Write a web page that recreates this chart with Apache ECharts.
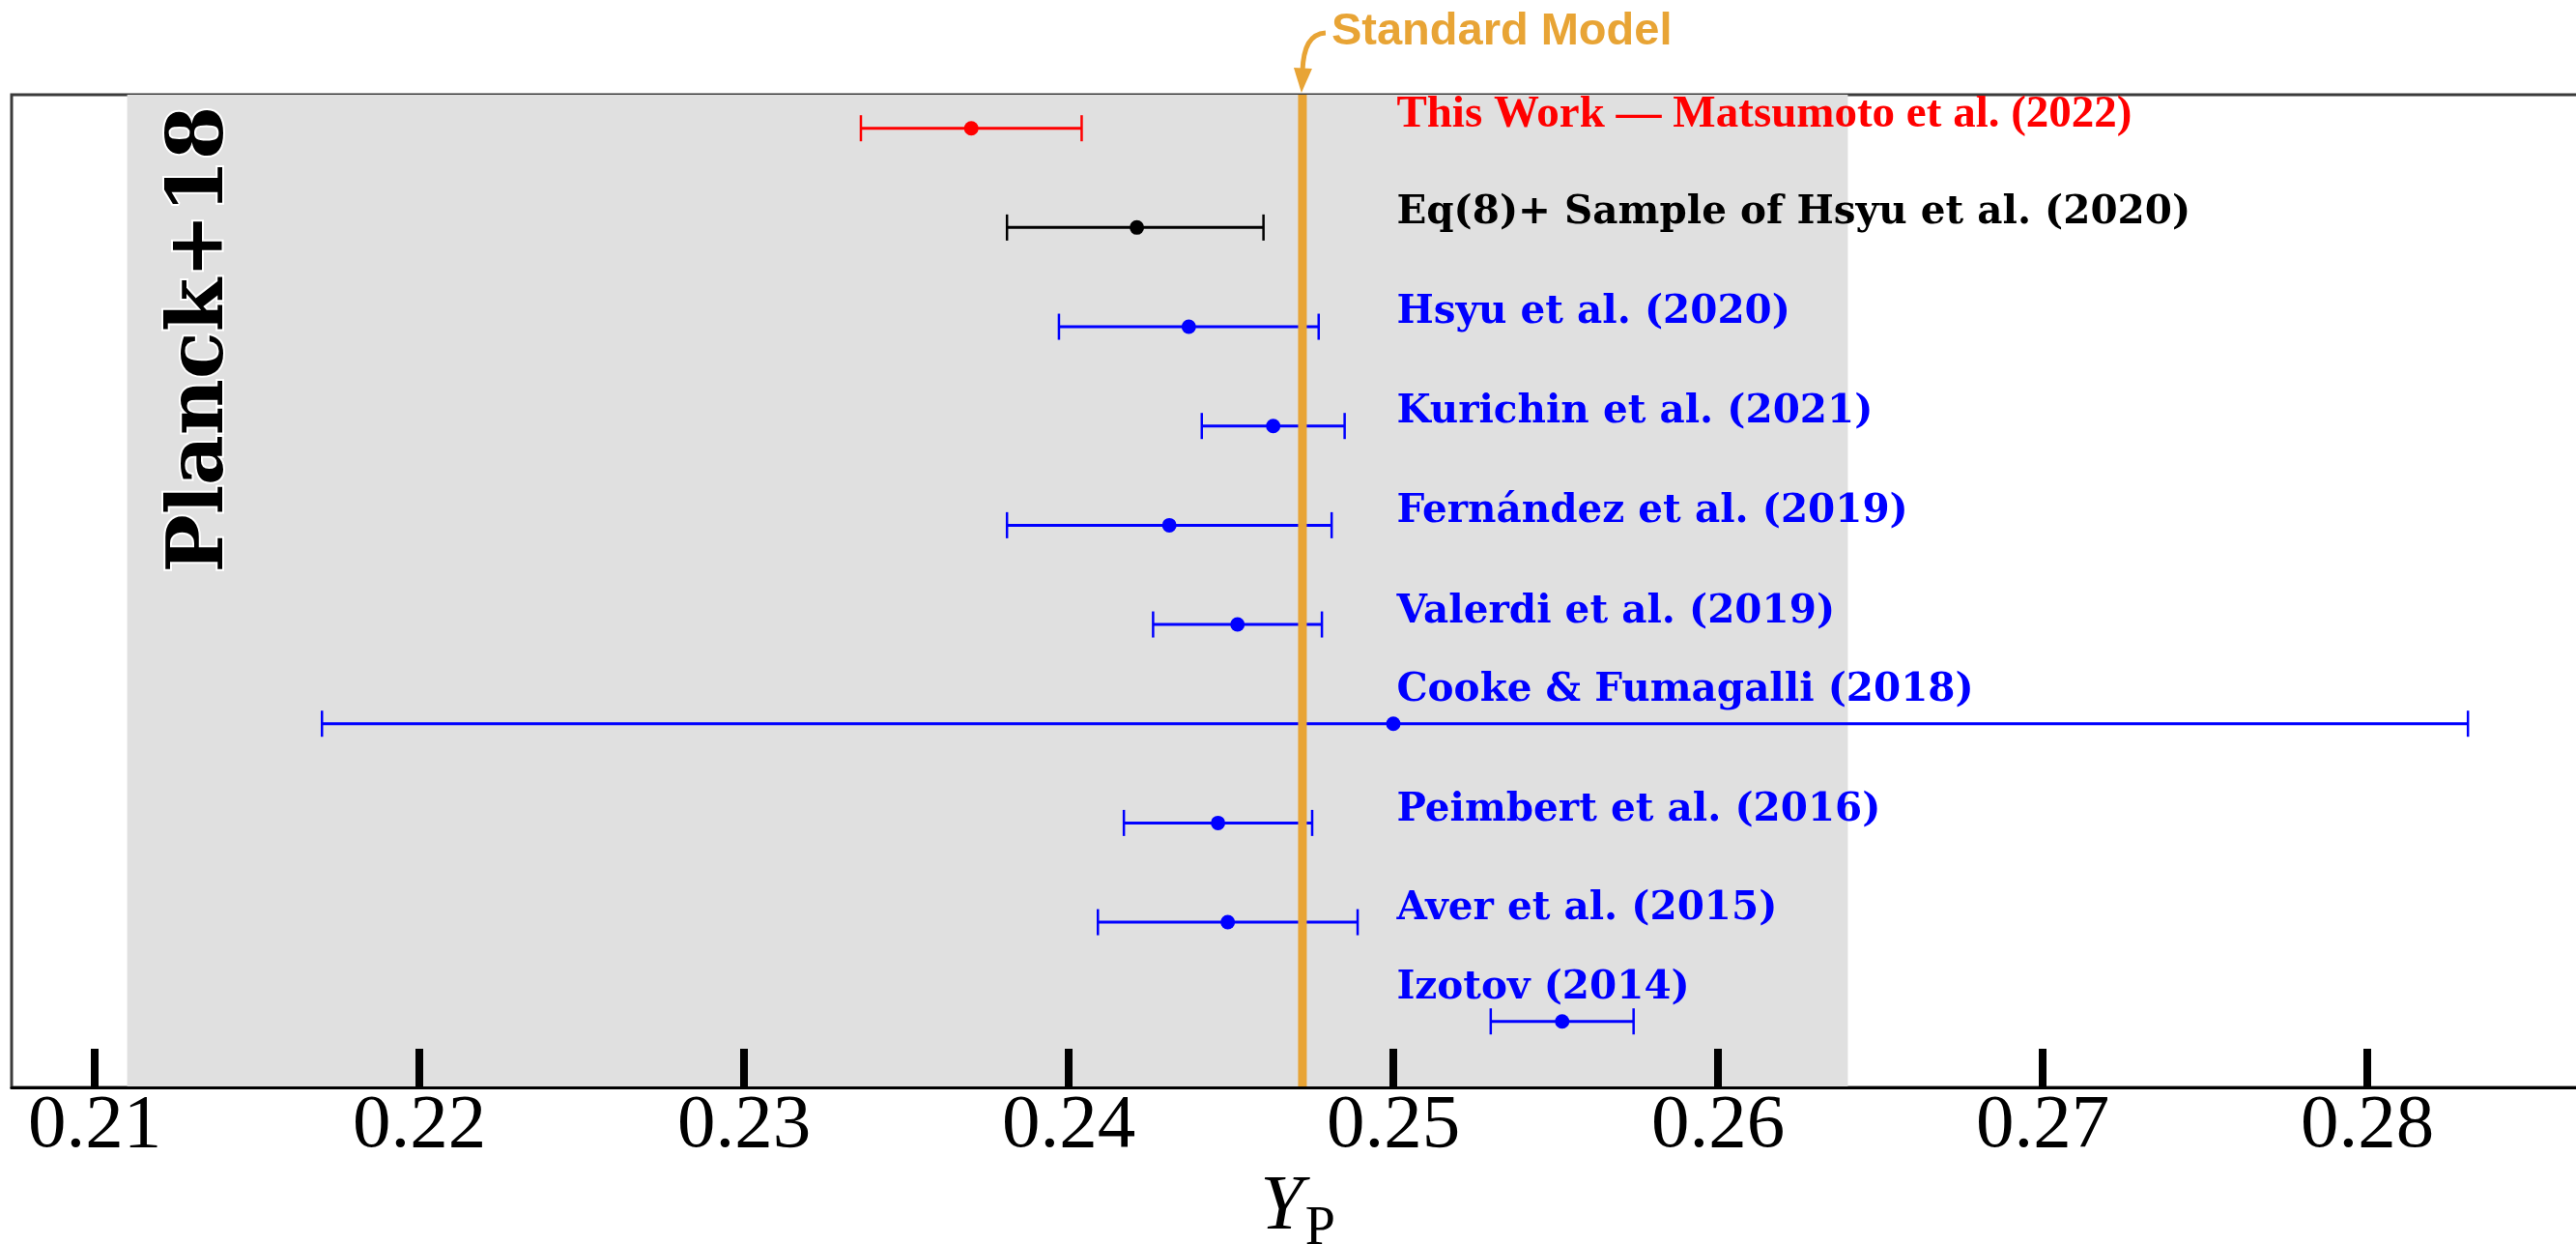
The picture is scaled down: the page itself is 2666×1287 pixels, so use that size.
<!DOCTYPE html>
<html>
<head>
<meta charset="utf-8">
<script src="https://cdn.jsdelivr.net/npm/echarts@6/dist/echarts.min.js"></script>
<style>html,body{margin:0;padding:0;background:#fff;}#c{width:2666px;height:1287px;}</style>
</head>
<body>
<div id="c"></div>
<script>
// ---------------- data ----------------
const studies = [
  'This Work — Matsumoto et al. (2022)',
  'Eq(8)+ Sample of Hsyu et al. (2020)',
  'Hsyu et al. (2020)',
  'Kurichin et al. (2021)',
  'Fernández et al. (2019)',
  'Valerdi et al. (2019)',
  'Cooke & Fumagalli (2018)',
  'Peimbert et al. (2016)',
  'Aver et al. (2015)',
  'Izotov (2014)'
];
const ypValues = [0.2370, 0.2421, 0.2437, 0.2463, 0.2431, 0.2452, 0.2500, 0.2446, 0.2449, 0.2552];
const errMinus = [0.0034, 0.0040, 0.0040, 0.0022, 0.0050, 0.0026, 0.0330, 0.0029, 0.0040, 0.0022];
const errPlus  = [0.0034, 0.0039, 0.0040, 0.0022, 0.0050, 0.0026, 0.0331, 0.0029, 0.0040, 0.0022];
const planckRange = [0.211, 0.264];
const standardModel = 0.2472;
const xTicks = [0.21, 0.22, 0.23, 0.24, 0.25, 0.26, 0.27, 0.28];
const xTickLabels = ['0.21', '0.22', '0.23', '0.24', '0.25', '0.26', '0.27', '0.28'];

// ---------------- style ----------------
const rowColors = ['#ff0000', '#000000', '#0000ff', '#0000ff', '#0000ff', '#0000ff', '#0000ff', '#0000ff', '#0000ff', '#0000ff'];
const labelLift = [14, 15, 15, 14, 14, 13, 34, 13, 14, 34];
const LABEL_X = 0.2501;
const ORANGE = '#e8a435';

const N = studies.length;
const barData = studies.map((s, i) => [ypValues[i], ypValues[i] - errMinus[i], ypValues[i] + errPlus[i], N - i]);

const chart = echarts.init(document.getElementById('c'), null, {renderer: 'canvas'});

function renderItem(params, api) {
  const i = params.dataIndex;
  const y = api.value(3);
  const c = api.coord([api.value(0), y]);
  const l = api.coord([api.value(1), y]);
  const r = api.coord([api.value(2), y]);
  const lx = api.coord([LABEL_X, y]);
  const col = rowColors[i];
  const capH = 13.5;
  const isFirst = i === 0;
  return {
    type: 'group',
    children: [
      {type: 'line', shape: {x1: l[0], y1: l[1], x2: r[0], y2: r[1]}, style: {stroke: col, lineWidth: 3}},
      {type: 'line', shape: {x1: l[0], y1: l[1] - capH, x2: l[0], y2: l[1] + capH}, style: {stroke: col, lineWidth: 2.5}},
      {type: 'line', shape: {x1: r[0], y1: r[1] - capH, x2: r[0], y2: r[1] + capH}, style: {stroke: col, lineWidth: 2.5}},
      {type: 'circle', shape: {cx: c[0], cy: c[1], r: 7.5}, style: {fill: col}},
      {type: 'text', x: lx[0], y: c[1] - labelLift[i], style: {
        text: studies[i],
        fill: col,
        font: isFirst ? 'bold 47px "Liberation Serif"' : 'bold 40.5px "DejaVu Serif"',
        textAlign: 'left', textVerticalAlign: 'middle'
      }}
    ]
  };
}

function renderSM(params, api) {
  const top = api.coord([api.value(0), 10.338]);
  const bot = api.coord([api.value(0), 0.335]);
  return {type: 'line', shape: {x1: top[0], y1: top[1], x2: bot[0], y2: bot[1]}, style: {stroke: ORANGE, lineWidth: 9}};
}

const option = {
  animation: false,
  backgroundColor: '#ffffff',
  grid: {left: 12, top: 98, width: 2662, bottom: 162, show: true, borderColor: '#3a3a3a', borderWidth: 3, backgroundColor: 'transparent', outerBoundsMode: 'none', containLabel: false},
  xAxis: {
    type: 'value',
    min: 0.20744,
    max: 0.20744 + 2662 / 33600,
    z: 10,
    splitLine: {show: false},
    axisLine: {show: true, onZero: false, lineStyle: {color: '#000', width: 3}},
    axisTick: {show: true, inside: true, length: 40, lineStyle: {color: '#000', width: 8}, customValues: xTicks},
    axisLabel: {
      customValues: xTicks,
      formatter: v => xTickLabels[xTicks.findIndex(t => Math.abs(t - v) < 1e-9)],
      fontFamily: '"Liberation Serif"', fontSize: 79, color: '#000', margin: 1
    },
    name: '{y|Y}{p|P}',
    nameLocation: 'middle',
    nameGap: 74,
    nameTextStyle: {
      rich: {
        y: {fontFamily: '"Liberation Serif"', fontStyle: 'italic', fontSize: 80, color: '#000', verticalAlign: 'bottom', padding: [0, 2, 10, 0]},
        p: {fontFamily: '"Liberation Serif"', fontSize: 56, color: '#000', verticalAlign: 'bottom'}
      }
    }
  },
  yAxis: {type: 'value', min: 0.335, max: 10.338, show: false},
  series: [
    {
      type: 'scatter', data: [], z: 1, silent: true,
      markArea: {silent: true, itemStyle: {color: '#e0e0e0'}, data: [[{xAxis: planckRange[0]}, {xAxis: planckRange[1]}]]}
    },
    {
      type: 'custom', renderItem: renderItem, data: barData, z: 3,
      encode: {x: [0, 1, 2], y: 3}, clip: false
    },
    {
      type: 'custom', renderItem: renderSM, data: [[standardModel]], z: 5, silent: true,
      encode: {x: 0}
    }
  ]
};
chart.setOption(option);

// annotations placed from the axis scale
const smx = chart.convertToPixel({xAxisIndex: 0, yAxisIndex: 0}, [standardModel, 1])[0];
const planckX = chart.convertToPixel({xAxisIndex: 0, yAxisIndex: 0}, [0.2133, 1])[0];
chart.setOption({
  graphic: [
    {type: 'text', x: smx + 30, y: 33, style: {text: 'Standard Model', fill: ORANGE, font: 'bold 47px "Liberation Sans"', textAlign: 'left', textVerticalAlign: 'middle'}, z: 20},
    {type: 'bezierCurve', shape: {x1: smx + 24, y1: 34, cpx1: smx + 8, cpy1: 35, cpx2: smx + 1, cpy2: 48, x2: smx, y2: 74}, style: {stroke: ORANGE, lineWidth: 5, fill: null}, z: 20},
    {type: 'polygon', shape: {points: [[smx - 9, 70], [smx + 10, 71], [smx - 1, 96]]}, style: {fill: ORANGE}, z: 20},
    {type: 'text', x: planckX, y: 351, rotation: Math.PI / 2, style: {text: 'Planck+18', fill: '#000', font: 'bold 80px "DejaVu Serif"', textAlign: 'center', textVerticalAlign: 'middle', stroke: '#fff', lineWidth: 4}, z: 20}
  ]
});
</script>
</body>
</html>
